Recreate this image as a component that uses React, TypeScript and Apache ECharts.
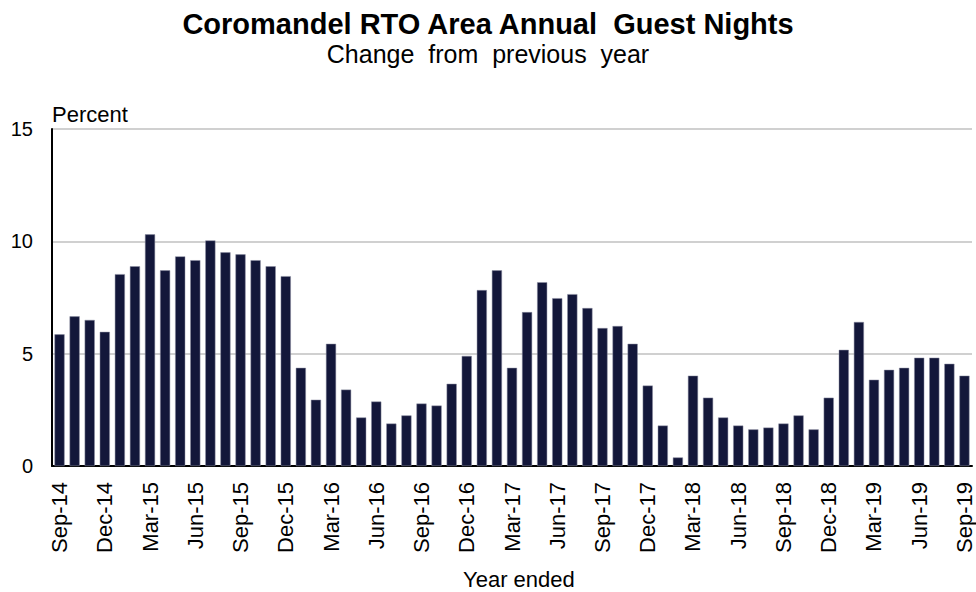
import React, { useEffect, useRef } from "react";
import * as echarts from "echarts";

const monthNames = ["Jan", "Feb", "Mar", "Apr", "May", "Jun", "Jul", "Aug", "Sep", "Oct", "Nov", "Dec"];
const categories: string[] = [];
for (let i = 0; i < 61; i++) {
  const m = (8 + i) % 12;
  const y = 14 + Math.floor((8 + i) / 12);
  categories.push(`${monthNames[m]}-${y}`);
}

const values = [
  5.86, 6.66, 6.5, 5.97, 8.54, 8.89, 10.31, 8.71, 9.33, 9.16,
  10.04, 9.51, 9.42, 9.16, 8.89, 8.45, 4.37, 2.95, 5.44, 3.4,
  2.16, 2.87, 1.89, 2.25, 2.78, 2.69, 3.66, 4.9, 7.83, 8.71,
  4.37, 6.85, 8.18, 7.47, 7.65, 7.03, 6.14, 6.23, 5.44, 3.58,
  1.8, 0.38, 4.02, 3.04, 2.16, 1.8, 1.63, 1.71, 1.89, 2.25,
  1.63, 3.04, 5.17, 6.41, 3.84, 4.28, 4.37, 4.82, 4.82, 4.55,
  4.02,
];

const yTicks = [0, 5, 10, 15];

const FONT = "Liberation Sans, Arial, sans-serif";

export default function App() {
  const ref = useRef<HTMLDivElement>(null);
  useEffect(() => {
    if (!ref.current) return;
    const chart = echarts.init(ref.current, undefined, { renderer: "svg" });
    chart.setOption({
      animation: false,
      backgroundColor: "#ffffff",
      textStyle: { fontFamily: FONT },
      title: [
        {
          text: "Coromandel RTO Area Annual  Guest Nights",
          left: "center",
          top: 4,
          textStyle: { fontFamily: FONT, fontSize: 29, fontWeight: "bold", color: "#000" },
        },
        {
          text: "Change  from  previous  year",
          left: "center",
          top: 36,
          textStyle: { fontFamily: FONT, fontSize: 25, fontWeight: "normal", color: "#000" },
        },
      ],
      graphic: [
        {
          type: "text",
          left: 52,
          top: 103,
          style: { text: "Percent", font: `22px ${FONT}`, fill: "#000" },
        },
        {
          type: "text",
          left: 463,
          top: 568,
          style: { text: "Year ended", font: `22px ${FONT}`, fill: "#000" },
        },
      ],
      grid: { left: 52, right: 4, top: 129, bottom: 126, containLabel: false },
      xAxis: {
        type: "category",
        data: categories,
        axisLine: { show: true, lineStyle: { color: "#000", width: 2 } },
        axisTick: { show: false },
        axisLabel: {
          interval: 2,
          rotate: 90,
          margin: 16,
          fontSize: 22,
          fontFamily: FONT,
          color: "#000",
        },
      },
      yAxis: {
        type: "value",
        min: yTicks[0],
        max: yTicks[yTicks.length - 1],
        interval: 5,
        axisLine: { show: true, lineStyle: { color: "#000", width: 2 } },
        axisTick: { show: false },
        axisLabel: { fontSize: 20, fontFamily: FONT, color: "#000", margin: 19 },
        splitLine: { show: true, lineStyle: { color: "#d0d0d0", width: 2 } },
      },
      series: [
        {
          type: "bar",
          data: values,
          barCategoryGap: "33%",
          itemStyle: { color: "#13173a", borderColor: "#8c8fa3", borderWidth: 0.5 },
        },
      ],
    });
    return () => chart.dispose();
  }, []);
  return (
    <div
      ref={ref}
      style={{ position: "absolute", left: 0, top: 0, width: 976, height: 592 }}
    />
  );
}
